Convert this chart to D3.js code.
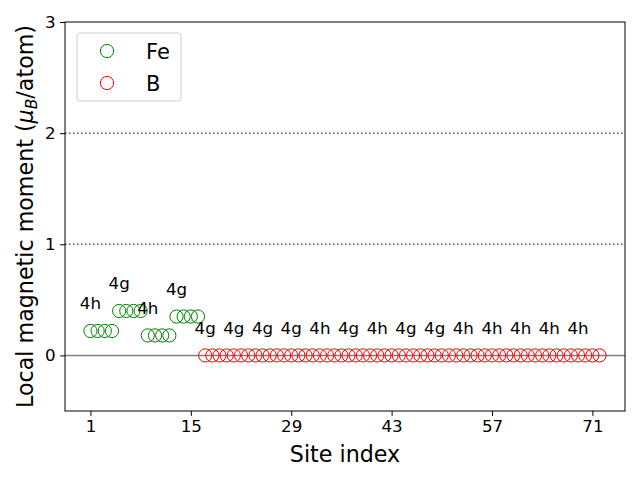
<!DOCTYPE html>
<html><head><meta charset="utf-8">
<script src="https://cdn.jsdelivr.net/npm/d3@7"></script>
<style>body{margin:0;background:#fff}svg{font-family:"DejaVu Sans",sans-serif}</style>
</head><body><svg id="c" width="640" height="480"></svg>
<script>
const feSites = [1,2,3,4,5,6,7,8,9,10,11,12,13,14,15,16];
const feMoments = [0.22,0.22,0.22,0.22,0.40,0.40,0.40,0.40,0.18,0.18,0.18,0.18,0.35,0.35,0.35,0.35];
const bSites = [17,18,19,20,21,22,23,24,25,26,27,28,29,30,31,32,33,34,35,36,37,38,39,40,41,42,43,44,
  45,46,47,48,49,50,51,52,53,54,55,56,57,58,59,60,61,62,63,64,65,66,67,68,69,70,71,72];
const bMoments = [0,0,0,0,0,0,0,0,0,0,0,0,0,0,0,0,0,0,0,0,0,0,0,0,0,0,0,0,
  0,0,0,0,0,0,0,0,0,0,0,0,0,0,0,0,0,0,0,0,0,0,0,0,0,0,0,0];
const labelSites = [1,5,9,13,17,21,25,29,33,37,41,45,49,53,57,61,65,69];
const labelTexts = ["4h","4g","4h","4g","4g","4g","4g","4g","4h","4g","4h","4g","4g","4h","4h","4h","4h","4h"];
const xTicks = [1,15,29,43,57,71];
const yTicks = [0,1,2,3];
const refLines = [1,2];

const svg = d3.select("#c");
const L=65,R=625,T=22,B=411;
const x = d3.scaleLinear().domain([-2.55,75.55]).range([L,R]);
const y = d3.scaleLinear().domain([-0.5,3]).range([B,T]);

// reference lines
svg.selectAll(".ref").data(refLines).enter().append("line")
  .attr("x1",L).attr("x2",R).attr("y1",d=>y(d)).attr("y2",d=>y(d))
  .attr("stroke","#555").attr("stroke-width",1.5).attr("stroke-dasharray","1.5,2.5");
svg.append("line").attr("x1",L).attr("x2",R).attr("y1",y(0)).attr("y2",y(0))
  .attr("stroke","#808080").attr("stroke-width",1.5);

// points
const allMoment = {};
feSites.forEach((s,i)=>allMoment[s]=feMoments[i]);
bSites.forEach((s,i)=>allMoment[s]=bMoments[i]);
svg.selectAll(".fe").data(feSites).enter().append("circle")
  .attr("cx",d=>x(d)).attr("cy",(d,i)=>y(feMoments[i])).attr("r",6.6)
  .attr("fill","none").attr("stroke","#008000").attr("stroke-width",1);
svg.selectAll(".b").data(bSites).enter().append("circle")
  .attr("cx",d=>x(d)).attr("cy",(d,i)=>y(bMoments[i])).attr("r",6.6)
  .attr("fill","none").attr("stroke","#ff0000").attr("stroke-width",1);

// labels
svg.selectAll(".lab").data(labelSites).enter().append("text")
  .attr("x",d=>x(d)).attr("y",d=>y(allMoment[d]+0.25)).attr("dy","0.36em")
  .attr("text-anchor","middle").attr("font-size",16.7).text((d,i)=>labelTexts[i]);

// axes
const xAxis = svg.append("g").attr("transform",`translate(0,${B})`)
  .call(d3.axisBottom(x).tickValues(xTicks).tickSize(4.9).tickPadding(4.5).tickFormat(d3.format("d")));
const yAxis = svg.append("g").attr("transform",`translate(${L},0)`)
  .call(d3.axisLeft(y).tickValues(yTicks).tickSize(4.9).tickPadding(4.5).tickFormat(d3.format("d")));
[xAxis,yAxis].forEach(g=>{
  g.select(".domain").remove();
  g.selectAll("text").attr("font-size",16.7).attr("font-family","DejaVu Sans").attr("fill","#000");
  g.selectAll("line").attr("stroke","#000").attr("stroke-width",1);
});
svg.append("rect").attr("x",L).attr("y",T).attr("width",R-L).attr("height",B-T)
  .attr("fill","none").attr("stroke","#000").attr("stroke-width",1);

// axis labels
svg.append("text").attr("x",(L+R)/2).attr("y",462).attr("text-anchor","middle")
  .attr("font-size",22.2).text("Site index");
const yl = svg.append("text").attr("transform",`translate(33,${(T+B)/2}) rotate(-90)`)
  .attr("text-anchor","middle").attr("font-size",22.2);
yl.append("tspan").text("Local magnetic moment (");
yl.append("tspan").attr("font-style","italic").text("μ");
yl.append("tspan").attr("font-style","italic").attr("font-size",15.5).attr("dy",4).text("B");
yl.append("tspan").attr("dy",-4).text("/atom)");

// legend
const lg = svg.append("g");
lg.append("rect").attr("x",77).attr("y",33).attr("width",104).attr("height",68).attr("rx",3)
  .attr("fill","#fff").attr("fill-opacity",0.8).attr("stroke","#ccc").attr("stroke-width",1);
const legItems = [["Fe","#008000"],["B","#ff0000"]];
legItems.forEach((it,i)=>{
  const cy = 51 + i*32;
  lg.append("circle").attr("cx",107).attr("cy",cy).attr("r",6.6).attr("fill","none")
    .attr("stroke",it[1]).attr("stroke-width",1);
  lg.append("text").attr("x",146).attr("y",cy).attr("dy","0.36em").attr("font-size",21).text(it[0]);
});
</script></body></html>
